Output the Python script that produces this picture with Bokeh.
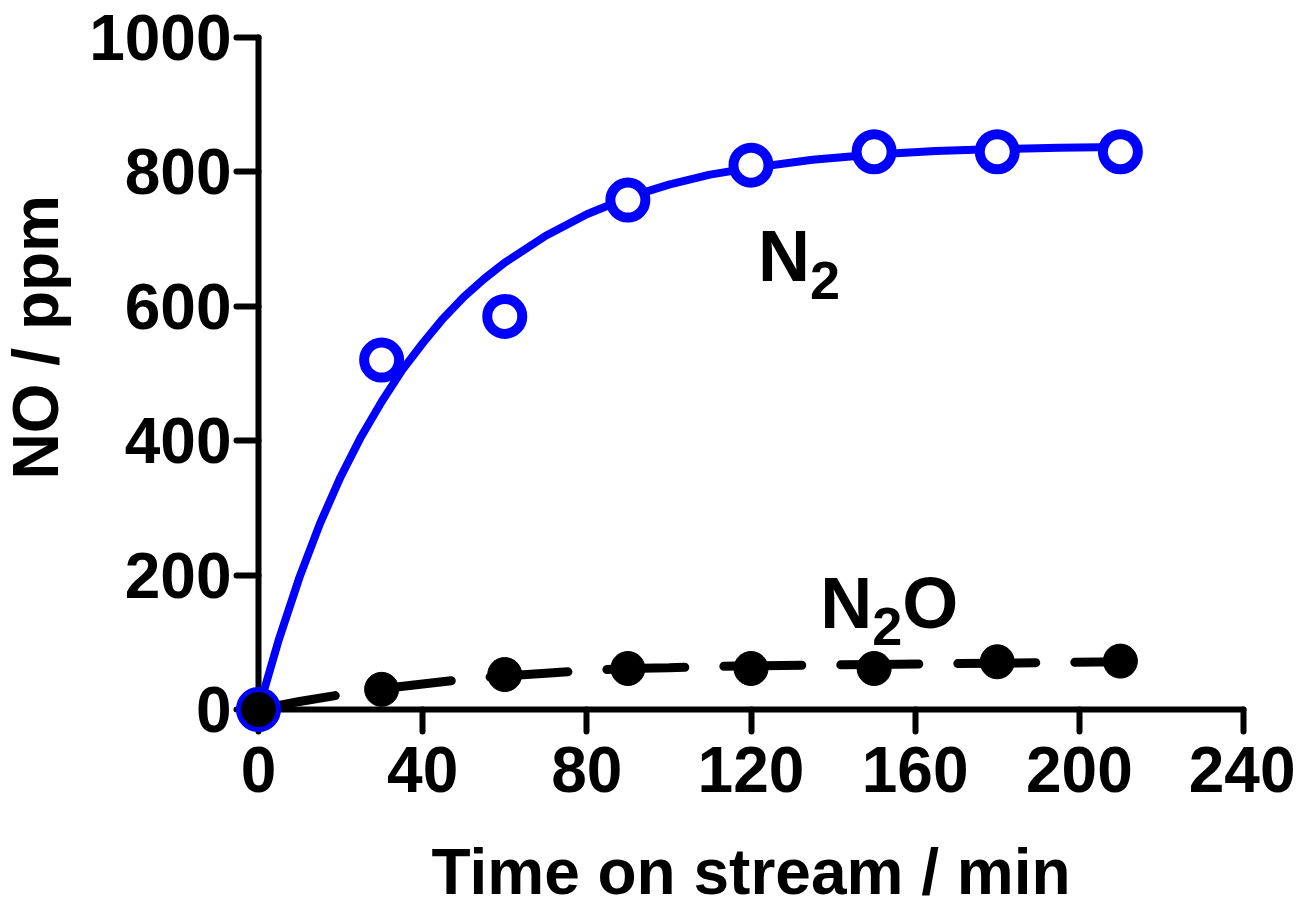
from math import pi

from bokeh.plotting import figure
from bokeh.models import Range1d, Label, FixedTicker
from bokeh.core.properties import value
from bokeh.embed import file_html
from bokeh.resources import INLINE

# measured points (time on stream, min / NO, ppm)
time_min = [0, 30, 60, 90, 120, 150, 180, 210]
n2_ppm = [0, 520, 585, 758, 810, 830, 830, 830]
n2o_ppm = [0, 30, 52, 61, 61, 61, 71, 72]

# fitted curves
n2_fit_t = [0, 5, 10, 15, 20, 25, 30, 35, 40, 45, 50, 55, 60, 70, 80, 90,
            100, 110, 120, 135, 150, 165, 180, 195, 210]
n2_fit = [0, 105, 197, 277, 346, 406, 458, 505, 545, 582, 614, 641, 665, 705,
          737, 762, 781, 796, 806, 818, 826, 831, 834, 836, 837]
n2o_fit_t = [0, 10, 20, 30, 40, 50, 60, 70, 80, 90, 100, 110, 120, 135, 150,
             165, 180, 195, 210]
n2o_fit = [0, 12, 22, 31, 38, 45, 50, 54, 58, 61, 62, 64, 65, 66, 67, 68, 69,
           70, 71]

x_ticks = [0, 40, 80, 120, 160, 200, 240]
y_ticks = [0, 200, 400, 600, 800, 1000]

FONT = "Liberation Sans"
BLUE = "#0000ff"

p = figure(width=1295, height=911,
           x_range=Range1d(0, 240), y_range=Range1d(0, 1000),
           output_backend="svg", toolbar_location=None,
           min_border_left=258, min_border_right=52,
           min_border_top=37, min_border_bottom=202)
p.grid.visible = False
p.outline_line_color = None

for ax in (p.xaxis[0], p.yaxis[0]):
    ax.axis_line_width = 6
    ax.axis_line_color = "black"
    ax.axis_line_cap = "round"
    ax.major_tick_line_width = 6
    ax.major_tick_line_cap = "round"
    ax.major_tick_line_color = "black"
    ax.major_tick_out = 22
    ax.major_tick_in = 0
    ax.minor_tick_line_color = None
    ax.major_label_text_font = FONT
    ax.major_label_text_font_style = "bold"
    ax.major_label_text_font_size = "64px"
    ax.major_label_text_color = "black"

p.xaxis.major_label_standoff = 15
p.yaxis.major_label_standoff = 5
p.xaxis.ticker = FixedTicker(ticks=x_ticks)
p.yaxis.ticker = FixedTicker(ticks=y_ticks)

p.xaxis.axis_label = "Time on stream / min"
p.xaxis.axis_label_text_font = FONT
p.xaxis.axis_label_text_font_style = "bold"
p.xaxis.axis_label_text_font_size = "64px"
p.xaxis.axis_label_text_color = "black"
p.xaxis.axis_label_standoff = 41

# curves and points (overlay level so markers at the origin are not clipped)
r1 = p.line(n2_fit_t, n2_fit, line_color=BLUE, line_width=8)
r2 = p.line(n2o_fit_t, n2o_fit, line_color="black", line_width=9,
            line_dash="78 39", line_cap="round")
r3 = p.scatter(time_min, n2_ppm, size=35, fill_color="white",
               line_color=BLUE, line_width=10)
r4 = p.scatter(time_min, n2o_ppm, size=34, fill_color="black",
               line_color="black", line_width=1)

# y axis title, a little above the middle as in the original
r5 = p.text(x=[-54.2], y=[554], text=["NO / ppm"], angle=pi / 2,
            text_align="center", text_baseline="middle",
            text_font=value(FONT), text_font_style="bold",
            text_font_size="64px", text_color="black")
for r in (r1, r2, r3, r4, r5):
    r.level = "overlay"

# series labels with subscripts
def chem_label(x, y, parts):
    for text, dx, dy, size in parts:
        p.add_layout(Label(x=x, y=y, x_offset=dx, y_offset=dy, text=text,
                           text_align="left", text_baseline="alphabetic",
                           text_font=FONT, text_font_style="bold",
                           text_font_size=size, text_color="black"))

chem_label(121.7, 634, [("N", 0, 27, "72px"), ("2", 52, 3, "54px")])
chem_label(136.9, 119, [("N", 0, 27, "72px"), ("2", 52, 3, "54px"),
                        ("O", 82, 27, "72px")])

open("out.html", "w").write(file_html(p, INLINE))
